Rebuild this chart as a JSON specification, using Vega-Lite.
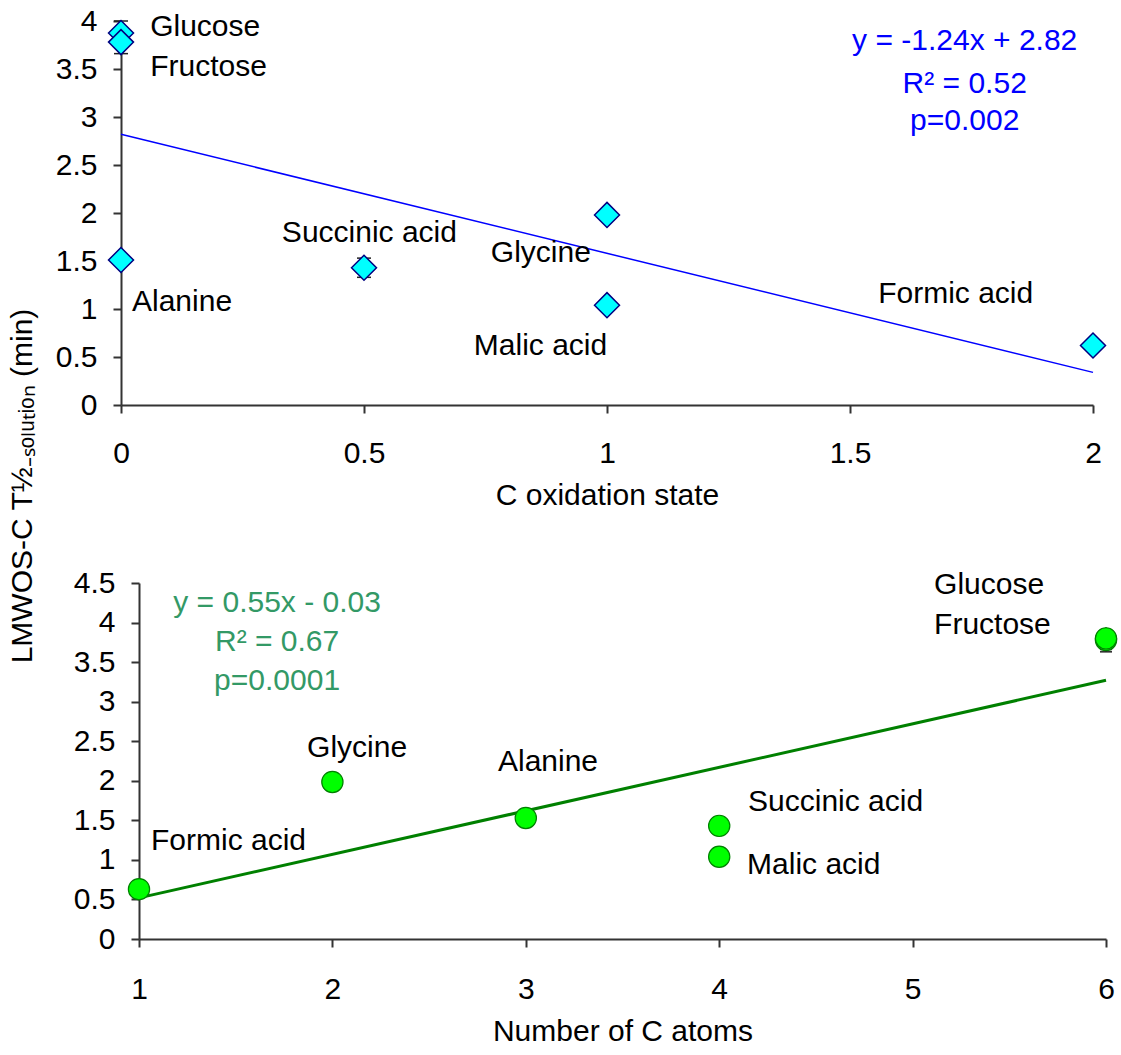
{
  "$schema": "https://vega.github.io/schema/vega-lite/v6.json",
  "background": "white",
  "padding": {"left": 8, "top": 6, "right": 5, "bottom": 5},
  "config": {
    "font": "Liberation Sans",
    "view": {"stroke": null},
    "axis": {
      "grid": false,
      "domainColor": "#333333",
      "domainWidth": 2,
      "tickColor": "#333333",
      "tickWidth": 2,
      "tickSize": 8,
      "labelFontSize": 30,
      "labelColor": "black",
      "labelFont": "Liberation Sans",
      "labelFlush": false,
      "labelOverlap": false,
      "labelBound": false,
      "titleFontSize": 30,
      "titleFontWeight": "normal",
      "titleColor": "black",
      "titleFont": "Liberation Sans"
    },
    "text": {"font": "Liberation Sans", "fontSize": 30}
  },
  "title": {
    "text": "LMWOS-C T½₋ₛₒₗᵤₜᵢₒₙ  (min)",
    "orient": "left",
    "anchor": "middle",
    "fontSize": 30,
    "fontWeight": "normal",
    "color": "black",
    "font": "Liberation Sans",
    "offset": 17,
    "dx": 40
  },
  "datasets": {
    "top": [
      {"name": "Glucose", "x": 0, "y": 3.875, "lo": 3.76, "hi": 4.0},
      {"name": "Fructose", "x": 0, "y": 3.78, "lo": 3.66, "hi": 3.9},
      {"name": "Alanine", "x": 0, "y": 1.51, "lo": 1.49, "hi": 1.53},
      {"name": "Succinic acid", "x": 0.5, "y": 1.43, "lo": 1.33, "hi": 1.53},
      {"name": "Glycine", "x": 1, "y": 1.98, "lo": 1.95, "hi": 2.01},
      {"name": "Malic acid", "x": 1, "y": 1.04, "lo": 1.01, "hi": 1.07},
      {"name": "Formic acid", "x": 2, "y": 0.62, "lo": 0.6, "hi": 0.64}
    ],
    "topLine": [
      {"x": 0, "y": 2.82},
      {"x": 2, "y": 0.34}
    ],
    "topLabels": [
      {"text": "Glucose", "x": 0.06, "y": 3.94},
      {"text": "Fructose", "x": 0.06, "y": 3.52},
      {"text": "Succinic acid", "x": 0.331, "y": 1.79},
      {"text": "Glycine", "x": 0.761, "y": 1.58},
      {"text": "Alanine", "x": 0.0226, "y": 1.07},
      {"text": "Malic acid", "x": 0.726, "y": 0.615},
      {"text": "Formic acid", "x": 1.558, "y": 1.156}
    ],
    "topEq": [
      {"text": "y = -1.24x + 2.82", "x": 1.736, "y": 3.79},
      {"text": "R² = 0.52", "x": 1.736, "y": 3.34},
      {"text": "p=0.002", "x": 1.736, "y": 2.96}
    ],
    "bottom": [
      {"name": "Formic acid", "x": 1, "y": 0.63, "lo": 0.61, "hi": 0.65},
      {"name": "Glycine", "x": 2, "y": 1.985, "lo": 1.96, "hi": 2.01},
      {"name": "Alanine", "x": 3, "y": 1.53, "lo": 1.51, "hi": 1.55},
      {"name": "Succinic acid", "x": 4, "y": 1.43, "lo": 1.41, "hi": 1.45},
      {"name": "Malic acid", "x": 4, "y": 1.04, "lo": 1.02, "hi": 1.06},
      {"name": "Fructose", "x": 6, "y": 3.78, "lo": 3.63, "hi": 3.93},
      {"name": "Glucose", "x": 6, "y": 3.8, "lo": 3.66, "hi": 3.94}
    ],
    "bottomLine": [
      {"x": 1, "y": 0.52},
      {"x": 6, "y": 3.27}
    ],
    "bottomLabels": [
      {"text": "Glucose", "x": 5.111, "y": 4.475},
      {"text": "Fructose", "x": 5.111, "y": 3.97},
      {"text": "Glycine", "x": 1.869, "y": 2.415},
      {"text": "Alanine", "x": 2.856, "y": 2.24},
      {"text": "Succinic acid", "x": 4.149, "y": 1.73},
      {"text": "Malic acid", "x": 4.144, "y": 0.935},
      {"text": "Formic acid", "x": 1.062, "y": 1.24}
    ],
    "bottomEq": [
      {"text": "y = 0.55x - 0.03", "x": 1.714, "y": 4.25},
      {"text": "R² = 0.67", "x": 1.714, "y": 3.76},
      {"text": "p=0.0001", "x": 1.714, "y": 3.26}
    ]
  },
  "spacing": 58,
  "vconcat": [
    {
      "width": 972,
      "height": 384,
      "encoding": {
        "x": {
          "field": "x", "type": "quantitative",
          "scale": {"domain": [0, 2], "nice": false, "zero": false},
          "axis": {"values": [0, 0.5, 1, 1.5, 2], "format": ".1~f", "labelPadding": 25, "titlePadding": 12, "title": "C oxidation state"}
        },
        "y": {
          "field": "y", "type": "quantitative",
          "scale": {"domain": [0, 4], "nice": false},
          "axis": {"values": [0, 0.5, 1, 1.5, 2, 2.5, 3, 3.5, 4], "format": ".1~f", "labelPadding": 16, "title": null}
        }
      },
      "layer": [
        {
          "data": {"name": "topLine"},
          "mark": {"type": "line", "color": "#0000FF", "strokeWidth": 1.5}
        },
        {
          "data": {"name": "top"},
          "mark": {"type": "rule", "color": "#222222", "strokeWidth": 1.5},
          "encoding": {"y": {"field": "lo", "type": "quantitative"}, "y2": {"field": "hi"}}
        },
        {
          "data": {"name": "top"},
          "mark": {"type": "tick", "orient": "horizontal", "size": 14, "thickness": 1.5, "color": "#222222", "opacity": 1},
          "encoding": {"y": {"field": "lo", "type": "quantitative"}}
        },
        {
          "data": {"name": "top"},
          "mark": {"type": "tick", "orient": "horizontal", "size": 14, "thickness": 1.5, "color": "#222222", "opacity": 1},
          "encoding": {"y": {"field": "hi", "type": "quantitative"}}
        },
        {
          "data": {"name": "top"},
          "mark": {"type": "point", "shape": "diamond", "filled": true, "size": 625, "fill": "#00FFFF", "stroke": "#000080", "strokeWidth": 1.5, "opacity": 1}
        },
        {
          "data": {"name": "topLabels"},
          "mark": {"type": "text", "align": "left", "baseline": "middle", "fontSize": 30, "color": "black"},
          "encoding": {"text": {"field": "text"}}
        },
        {
          "data": {"name": "topEq"},
          "mark": {"type": "text", "align": "center", "baseline": "middle", "fontSize": 30, "color": "#0000FF"},
          "encoding": {"text": {"field": "text"}}
        }
      ]
    },
    {
      "width": 985,
      "height": 356,
      "encoding": {
        "x": {
          "field": "x", "type": "quantitative",
          "scale": {"domain": [1, 6], "nice": false, "zero": false, "range": [18, 985]},
          "axis": {"values": [1, 2, 3, 4, 5, 6], "labelPadding": 27, "titlePadding": 12, "title": "Number of C atoms"}
        },
        "y": {
          "field": "y", "type": "quantitative",
          "scale": {"domain": [0, 4.5], "nice": false},
          "axis": {"values": [0, 0.5, 1, 1.5, 2, 2.5, 3, 3.5, 4, 4.5], "format": ".1~f", "labelPadding": 16, "title": null, "offset": -18}
        }
      },
      "layer": [
        {
          "data": {"name": "bottomLine"},
          "mark": {"type": "line", "color": "#008000", "strokeWidth": 3}
        },
        {
          "data": {"name": "bottom"},
          "mark": {"type": "rule", "color": "#222222", "strokeWidth": 1.5},
          "encoding": {"y": {"field": "lo", "type": "quantitative"}, "y2": {"field": "hi"}}
        },
        {
          "data": {"name": "bottom"},
          "mark": {"type": "tick", "orient": "horizontal", "size": 12, "thickness": 1.5, "color": "#222222", "opacity": 1},
          "encoding": {"y": {"field": "lo", "type": "quantitative"}}
        },
        {
          "data": {"name": "bottom"},
          "mark": {"type": "point", "shape": "circle", "filled": true, "size": 452, "fill": "#00FF00", "stroke": "#008000", "strokeWidth": 1.2, "opacity": 1}
        },
        {
          "data": {"name": "bottomLabels"},
          "mark": {"type": "text", "align": "left", "baseline": "middle", "fontSize": 30, "color": "black"},
          "encoding": {"text": {"field": "text"}}
        },
        {
          "data": {"name": "bottomEq"},
          "mark": {"type": "text", "align": "center", "baseline": "middle", "fontSize": 30, "color": "#339966"},
          "encoding": {"text": {"field": "text"}}
        }
      ]
    }
  ]
}
